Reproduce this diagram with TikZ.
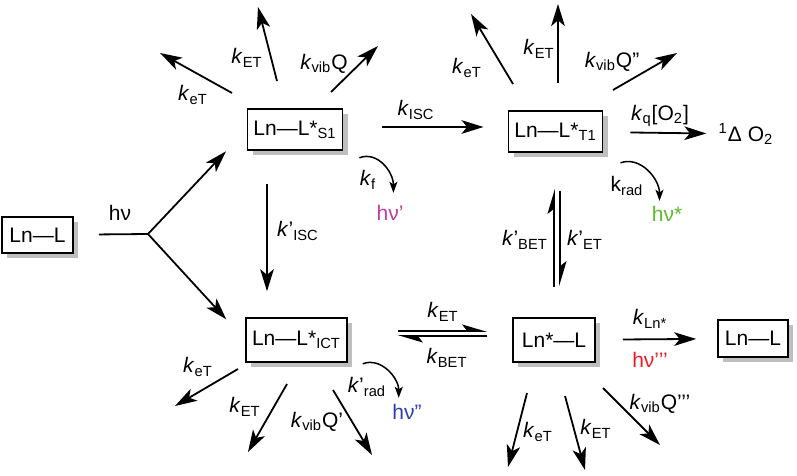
\documentclass[tikz,border=0pt]{standalone}
\usepackage{fontspec}
\setmainfont{Liberation Sans}
\usetikzlibrary{arrows.meta,shadows,calc}

\definecolor{fluo}{RGB}{192,60,160}
\definecolor{phos}{RGB}{92,187,42}
\definecolor{ictem}{RGB}{46,61,176}
\definecolor{lnem}{RGB}{238,28,36}

\newcommand{\rk}[1]{\textit{k}\textsubscript{#1}}
\newcommand{\rkp}[1]{\textit{k}’\textsubscript{#1}}

\tikzset{
  state/.style={draw, line width=0.8pt, fill=white, inner xsep=3pt, inner ysep=0pt,
    minimum height=20.5pt,
    drop shadow={shadow xshift=2.7pt, shadow yshift=-2.5pt, fill=black!25, opacity=1}},
  rate/.style={-{Stealth[length=11pt,width=6.8pt,inset=2.8pt]}, line width=0.9pt},
  harp/.style={-{Stealth[left,length=11pt,width=6.5pt,inset=2.5pt]}, line width=0.9pt},
  emit/.style={-{Stealth[length=5.5pt,width=4pt,inset=1.3pt]}, line width=0.75pt},
  lab/.style={inner sep=0pt},
}

\begin{document}
\begin{tikzpicture}[x=0.5pt, y=-0.5pt, font=\fontsize{10.5}{12}\selectfont]
  \useasboundingbox (0,0) rectangle (797,476);
  % states
  \draw
    (37.5,235) node[state, minimum width=35.5pt, minimum height=18pt] (gs) {Ln—L}
    (295,129.5) node[state, minimum width=44pt] (s1) {Ln—L*\textsubscript{S1}}
    (555.5,131.5) node[state, minimum width=44.5pt] (t1) {Ln—L*\textsubscript{T1}}
    (296.5,340) node[state, minimum width=46.5pt, minimum height=22pt] (ict) {Ln—L*\textsubscript{ICT}}
    (554,340) node[state, minimum width=41pt, minimum height=22pt] (lnx) {Ln*—L}
    (753,338.5) node[state, minimum width=35pt, minimum height=18.5pt] (gs2) {Ln—L}
    (746,134) node[lab] (o2) {\textsuperscript{1}Δ O\textsubscript{2}};

  % excitation
  \coordinate (branch) at (148,234);
  \draw[line width=0.9pt, shorten <=12.5pt] (gs) -- (branch)
    node[lab] (hv) at (120,213) {hν};
  \draw[rate, shorten >=15pt] (branch) -- (s1.west);
  \draw[rate, shorten >=14pt] (branch) -- (ict.west);

  % S1
  \coordinate (s1eT) at (160,53);
  \coordinate (s1ET) at (258,7);
  \coordinate (s1vib) at (378,46);
  \draw[rate] ($(s1)+(-63,-36.5)$) -- (s1eT) node[lab] (l-s1eT) at (193,95) {\rk{eT}};
  \draw[rate] ($(s1)+(-18,-48.5)$) -- (s1ET) node[lab] (l-s1ET) at (247,58) {\rk{ET}};
  \draw[rate] ($(s1)+(36,-37.5)$) -- (s1vib) node[lab] (l-s1vib) at (324,64) {\rk{vib}Q};
  \draw[rate, shorten <=19.5pt, shorten >=12pt] ([yshift=1.25pt]s1.east) -- ([yshift=2.25pt]t1.west)
    node[lab] (l-isc) at (416,110) {\rk{ISC}};
  \draw[rate, shorten <=16.5pt, shorten >=13pt] ([xshift=-14pt]s1.south) -- ([xshift=-14.75pt]ict.north)
    node[lab] (l-iscp) at (298,231) {\rkp{ISC}};
  \draw[emit] ($(s1.south east)+(16,7)$) .. controls +(18,-7) and +(0,-21) .. ($(s1.south east)+(50,42)$)
    node[lab] (l-kf) at (368,180) {\rk{f}}
    node[lab, text=fluo] (hv1) at (390,213) {hν’};

  % T1
  \coordinate (t1eT) at (471,14);
  \coordinate (t1ET) at (558,4);
  \coordinate (t1vib) at (677,53);
  \draw[rate] ($(t1)+(-42.5,-47.5)$) -- (t1eT) node[lab] (l-t1eT) at (467,68) {\rk{eT}};
  \draw[rate] ($(t1)+(2.5,-48.5)$) -- (t1ET) node[lab] (l-t1ET) at (539,49) {\rk{ET}};
  \draw[rate] ($(t1)+(57.5,-41.5)$) -- (t1vib) node[lab] (l-t1vib) at (612,62) {\rk{vib}Q”};
  \draw[rate, shorten <=13.5pt, shorten >=6pt] (t1) -- (o2)
    node[lab] (l-q) at (660,116) {\rk{q}[O\textsubscript{2}]};
  \draw[emit] ($(t1.south east)+(17,10)$) .. controls +(20,-7) and +(0,-22) .. ($(t1.south east)+(56,48)$)
    node[lab] (l-rad) at (627,186) {k\textsubscript{rad}}
    node[lab, text=phos] (hv2) at (667,214) {hν*};
  \draw[harp, shorten <=15pt, shorten >=18pt] (lnx.north) -- ([xshift=-0.75pt]t1.south)
    node[lab] (l-bet) at (525,240) {\rkp{BET}};
  \draw[harp, shorten <=19pt, shorten >=15.5pt] ([xshift=2.25pt]t1.south) -- ([xshift=3pt]lnx.north)
    node[lab] (l-etp) at (585,240) {\rkp{ET}};

  % ICT
  \coordinate (icteT) at (175,406);
  \coordinate (ictET) at (248,452);
  \coordinate (ictvib) at (372,455);
  \draw[rate] ($(ict)+(-58.5,29)$) -- (icteT) node[lab] (l-icteT) at (198,367) {\rk{eT}};
  \draw[rate] ($(ict)+(-9.5,44)$) -- (ictET) node[lab] (l-ictET) at (245,407) {\rk{ET}};
  \draw[rate] ($(ict)+(36.5,50)$) -- (ictvib) node[lab] (l-ictvib) at (317,422) {\rk{vib}Q’};
  \draw[emit] ($(ict.south east)+(15,1)$) .. controls +(18,-7) and +(0,-20) .. ($(ict.south east)+(51,35)$)
    node[lab] (l-radp) at (367,387) {\rkp{rad}}
    node[lab, text=ictem] (hv3) at (407,412) {hν”};
  \draw[harp, shorten <=25pt, shorten >=12.5pt] ([yshift=4.5pt]ict.east) -- ([yshift=4.5pt]lnx.west)
    node[lab] (l-et) at (443,312) {\rk{ET}};
  \draw[harp, shorten <=12.5pt, shorten >=25pt] ([yshift=2pt]lnx.west) -- ([yshift=2pt]ict.east)
    node[lab] (l-bet2) at (447,358) {\rk{BET}};

  % Ln*
  \coordinate (lneT) at (508,467);
  \coordinate (lnET) at (585,470);
  \coordinate (lnvib) at (660,445);
  \draw[rate] ($(lnx)+(-27,53)$) -- (lneT) node[lab] (l-lneT) at (538,432) {\rk{eT}};
  \draw[rate] ($(lnx)+(11,56)$) -- (lnET) node[lab] (l-lnET) at (596,429) {\rk{ET}};
  \draw[rate] ($(lnx)+(49,48)$) -- (lnvib) node[lab] (l-lnvib) at (660,404) {\rk{vib}Q’’’};
  \draw[rate, shorten <=13.5pt, shorten >=10.5pt] (lnx) -- (gs2)
    node[lab] (l-ln) at (650,319) {\rk{Ln*}}
    node[lab, text=lnem] (hv4) at (650,360) {hν’’’};
\end{tikzpicture}
\end{document}
